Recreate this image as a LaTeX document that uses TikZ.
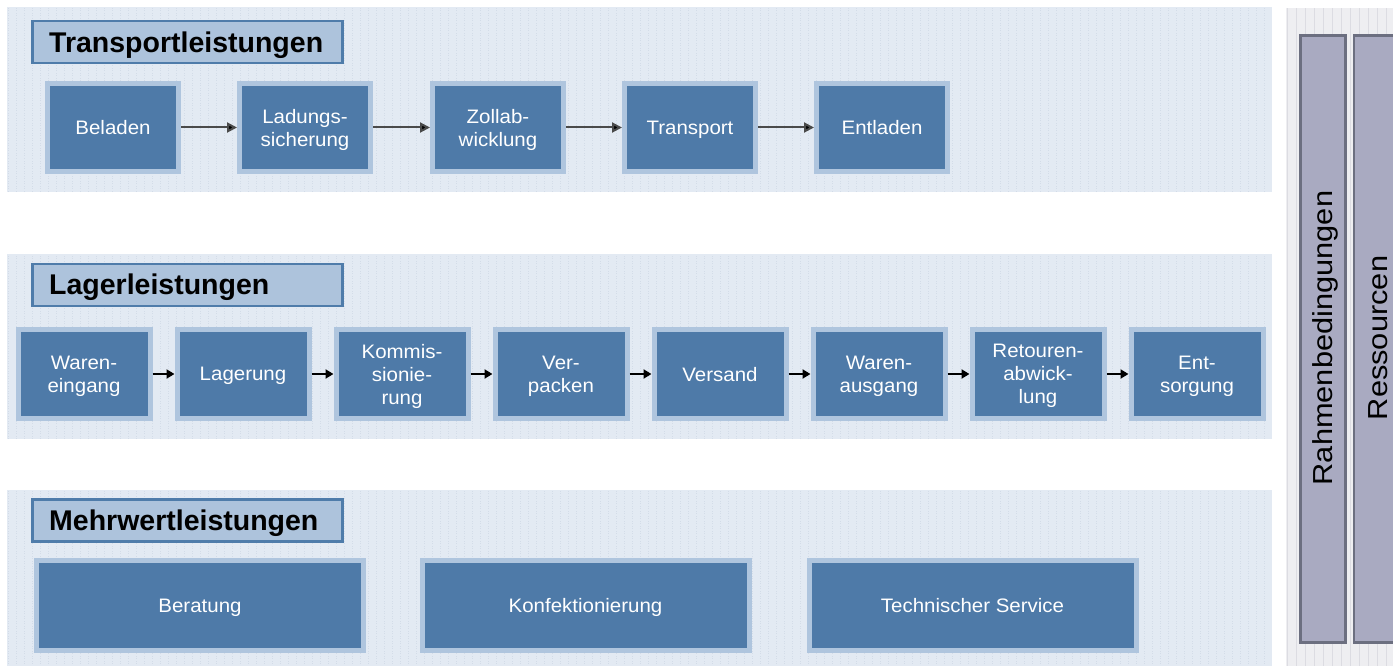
\documentclass[tikz,border=0pt]{standalone}
\usepackage{fontspec}
\setmainfont{Liberation Sans}
\newfontfamily\boxfont[FakeStretch=1.05]{Liberation Sans}
\newfontfamily\sidefont[FakeStretch=1.12]{Liberation Sans}
\usetikzlibrary{arrows.meta}
\definecolor{panelbg}{HTML}{E3EAF3}
\definecolor{gridc}{HTML}{D3DCE8}
\definecolor{titlefill}{HTML}{ADC3DC}
\definecolor{titledraw}{HTML}{4F7CAA}
\definecolor{boxfill}{HTML}{4E7AA8}
\definecolor{boxdraw}{HTML}{AFC5DE}
\definecolor{sidebg}{HTML}{EEEEF1}
\definecolor{sidegrid}{HTML}{DCDCE2}
\definecolor{sidefill}{HTML}{A9AAC1}
\definecolor{sidedraw}{HTML}{6C6F80}
\definecolor{arrowc}{HTML}{4A4A4A}
\tikzset{
  panel/.style={fill=panelbg, draw=none},
  titlebox/.style={draw=titledraw, fill=titlefill, line width=2.5pt, minimum width=310, minimum height=42, inner sep=0},
  titletext/.style={anchor=base west, font=\fontsize{28.5}{30}\selectfont\bfseries, text=black, inner sep=0},
  tbox/.style={draw=boxdraw, fill=boxfill, line width=5pt, minimum width=131, minimum height=88, align=center, text=white, font=\boxfont\fontsize{19.5}{23}\selectfont, inner sep=0, text depth=-1.5pt},
  lbox/.style={tbox, minimum width=132, minimum height=89},
  mbox/.style={tbox, minimum width=327, minimum height=90},
  sidebox/.style={draw=sidedraw, fill=sidefill, line width=2.5pt, inner sep=0},
  sidetext/.style={rotate=90, font=\sidefont\fontsize{27.5}{30}\selectfont, text=black, inner sep=0},
  flow/.style={draw=arrowc, line width=2pt, -{Triangle[length=10pt,width=10pt,fill=black]}},
  sflow/.style={draw=black, line width=2pt, -{Triangle[length=8pt,width=9pt]}}
}
\begin{document}
\begin{tikzpicture}[x=1pt,y=-1pt]
\useasboundingbox (0,0) rectangle (1393,666);
\fill[white] (0,0) rectangle (1393,666);
% panels
\fill[panelbg] (7,7) rectangle (1272,192);
\fill[panelbg] (7,254) rectangle (1272,439);
\fill[panelbg] (7,490) rectangle (1272,666);
\begin{scope}
\clip (7,7) rectangle (1272,192) (7,254) rectangle (1272,439) (7,490) rectangle (1272,666);
\draw[gridc, line width=0.5pt, dotted] (7,7) grid[step=8] (1272,666);
\end{scope}
\fill[sidebg] (1286,8) rectangle (1393,666);
\begin{scope}
\clip (1286,8) rectangle (1393,666);
\draw[sidegrid, line width=0.6pt] (1286,8) grid[step=9] (1393,666);
\end{scope}
% titles
\node[titlebox] (t1) at (187.5,42) {};
\node[titletext] (t1t) at (49,52.5) {Transportleistungen};
\node[titlebox] (t2) at (187.5,285) {};
\node[titletext] (t2t) at (49,294) {Lagerleistungen};
\node[titlebox] (t3) at (187.5,520.5) {};
\node[titletext] (t3t) at (49,530) {Mehrwertleistungen};
% transport
\node[tbox] (a1) at (113,127.5) {Beladen};
\node[tbox] (a2) at (305,127.5) {Ladungs-\\sicherung};
\node[tbox] (a3) at (498,127.5) {Zollab-\\wicklung};
\node[tbox] (a4) at (690,127.5) {Transport};
\node[tbox] (a5) at (882,127.5) {Entladen};
\draw[flow] (a1) -- (a2);
\draw[flow] (a2) -- (a3);
\draw[flow] (a3) -- (a4);
\draw[flow] (a4) -- (a5);
% lager
\node[lbox] (b1) at (84,374) {Waren-\\eingang};
\node[lbox] (b2) at (243,374) {Lagerung};
\node[lbox] (b3) at (402,374) {Kommis-\\sionie-\\rung};
\node[lbox] (b4) at (561,374) {Ver-\\packen};
\node[lbox] (b5) at (720,374) {Versand};
\node[lbox] (b6) at (879,374) {Waren-\\ausgang};
\node[lbox] (b7) at (1038,374) {Retouren-\\abwick-\\lung};
\node[lbox] (b8) at (1197,374) {Ent-\\sorgung};
\foreach \i/\j in {b1/b2,b2/b3,b3/b4,b4/b5,b5/b6,b6/b7,b7/b8}
  \draw[sflow] (\i) -- (\j);
% mehrwert
\node[mbox] (c1) at (200,605.5) {Beratung};
\node[mbox] (c2) at (585.5,605.5) {Konfektionierung};
\node[mbox] (c3) at (972.5,605.5) {Technischer Service};
% side
\node[sidebox, minimum width=45, minimum height=607] (r1) at (1323,339) {};
\node[sidetext] (r1t) at (1325,338) {Rahmenbedingungen};
\node[sidebox, minimum width=60, minimum height=607] (r2) at (1384,339) {};
\node[sidetext] (r2t) at (1378,338) {Ressourcen};
\end{tikzpicture}
\end{document}
